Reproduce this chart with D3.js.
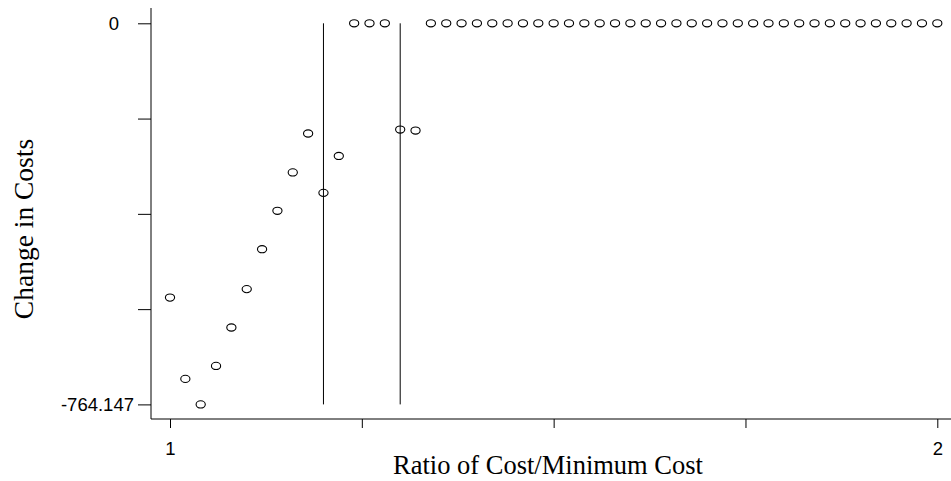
<!DOCTYPE html>
<html>
<head>
<meta charset="utf-8">
<script src="https://cdn.jsdelivr.net/npm/d3@7"></script>
<style>
  html, body { margin: 0; padding: 0; background: #fff; }
  svg { display: block; }
</style>
</head>
<body>
<svg id="chart" width="951" height="481"></svg>
<script>
// ---- data ----
const ratios = [1.00, 1.02, 1.04, 1.06, 1.08, 1.10, 1.12, 1.14, 1.16, 1.18,
                1.20, 1.22, 1.24, 1.26, 1.28, 1.30, 1.32, 1.34, 1.36, 1.38,
                1.40, 1.42, 1.44, 1.46, 1.48, 1.50, 1.52, 1.54, 1.56, 1.58,
                1.60, 1.62, 1.64, 1.66, 1.68, 1.70, 1.72, 1.74, 1.76, 1.78,
                1.80, 1.82, 1.84, 1.86, 1.88, 1.90, 1.92, 1.94, 1.96, 1.98, 2.00];
const costChanges = [-550, -713, -764.147, -687, -610, -533, -453, -376, -299, -221,
                     -340, -266, 0, 0, 0, -213, -215, 0, 0, 0,
                     0, 0, 0, 0, 0, 0, 0, 0, 0, 0,
                     0, 0, 0, 0, 0, 0, 0, 0, 0, 0,
                     0, 0, 0, 0, 0, 0, 0, 0, 0, 0, 0];
const refLines = [1.20, 1.30];
const xTicks = [1, 1.25, 1.5, 1.75, 2];
const xTickLabels = ["1", "", "", "", "2"];
const yMin = -764.147, yMax = 0;
const yTicks = [0, -191.03675, -382.0735, -573.11025, -764.147];
const yTickLabels = ["0", "", "", "", "-764.147"];
const xTitle = "Ratio of Cost/Minimum Cost";
const yTitle = "Change in Costs";

// ---- layout ----
const svg = d3.select("#chart");
const axisX0 = 151, axisY0 = 419;   // axis line positions
const x = d3.scaleLinear().domain([1, 2]).range([170, 937.3]);
const y = d3.scaleLinear().domain([yMin, yMax]).range([404.4, 23.3]);

const sans = "'Liberation Sans', Arial, Helvetica, sans-serif";
const serif = "'Liberation Serif', 'Times New Roman', serif";

// y axis
const yAxis = d3.axisLeft(y).tickValues(yTicks)
  .tickFormat((d, i) => yTickLabels[i]).tickSize(13).tickPadding(4).tickSizeOuter(0);
const gy = svg.append("g").attr("transform", `translate(${axisX0},0)`).call(yAxis);
gy.select(".domain").remove();
gy.append("line").attr("x1", 0).attr("x2", 0).attr("y1", 8).attr("y2", axisY0)
  .attr("stroke", "#000").attr("stroke-width", 1);
gy.selectAll(".tick line").attr("stroke", "#000");
gy.selectAll(".tick text")
  .attr("font-family", sans).attr("font-size", 18.5).attr("fill", "#000")
  .attr("x", (d, i) => i === 0 ? -32 : -17);

// x axis
const xAxis = d3.axisBottom(x).tickValues(xTicks)
  .tickFormat((d, i) => xTickLabels[i]).tickSize(9).tickPadding(14).tickSizeOuter(0);
const gx = svg.append("g").attr("transform", `translate(0,${axisY0})`).call(xAxis);
gx.select(".domain").remove();
gx.append("line").attr("x1", axisX0).attr("x2", 951).attr("y1", 0).attr("y2", 0)
  .attr("stroke", "#000").attr("stroke-width", 1);
gx.selectAll(".tick line").attr("stroke", "#000");
gx.selectAll(".tick text")
  .attr("font-family", sans).attr("font-size", 18.5).attr("fill", "#000");

// reference lines
svg.append("g").selectAll("line").data(refLines).join("line")
  .attr("x1", d => x(d)).attr("x2", d => x(d))
  .attr("y1", y(yMax)).attr("y2", y(yMin))
  .attr("stroke", "#000").attr("stroke-width", 1);

// points
svg.append("g").selectAll("ellipse").data(ratios).join("ellipse")
  .attr("cx", d => x(d))
  .attr("cy", (d, i) => y(costChanges[i]))
  .attr("rx", 4.6).attr("ry", 3.6)
  .attr("fill", "none").attr("stroke", "#000").attr("stroke-width", 1.1);

// titles
svg.append("text")
  .attr("x", 548).attr("y", 474)
  .attr("text-anchor", "middle")
  .attr("font-family", serif).attr("font-size", 26.5).attr("fill", "#000")
  .text(xTitle);

svg.append("text")
  .attr("transform", "translate(33,229) rotate(-90)")
  .attr("text-anchor", "middle")
  .attr("font-family", serif).attr("font-size", 27.5).attr("fill", "#000")
  .text(yTitle);
</script>
</body>
</html>
